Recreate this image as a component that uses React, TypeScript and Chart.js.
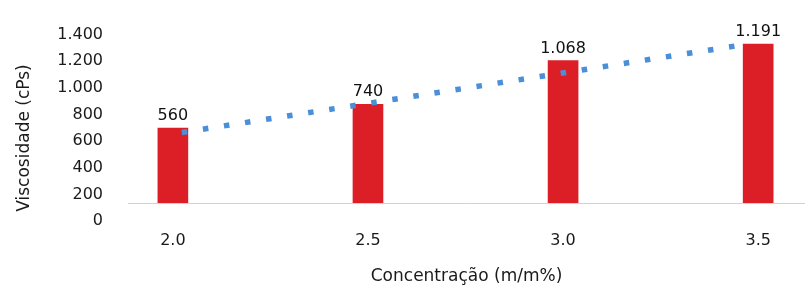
import React, { useEffect, useRef } from "react";
import { Chart, registerables } from "chart.js";

Chart.register(...registerables);

// ---- data ----
const categories = [2.0, 2.5, 3.0, 3.5];
const viscosity = [560, 740, 1068, 1191];
const valueLabels = ["560", "740", "1.068", "1.191"];
const yTicks = [0, 200, 400, 600, 800, 1000, 1200, 1400];
const yTickLabels = ["0", "200", "400", "600", "800", "1.000", "1.200", "1.400"];
const barBaseline = 137; // value-axis level on which the bars stand
const trendX = [2.023, 3.443];
const trendValues = [528, 1178];

const FONT = "DejaVu Sans";
const TEXT = "#1a1a1a";

export default function App() {
  const canvasRef = useRef<HTMLCanvasElement | null>(null);

  useEffect(() => {
    if (!canvasRef.current) return;

    const baselinePlugin = {
      id: "baselinePlugin",
      beforeDatasetsDraw(chart: any) {
        const { ctx, chartArea, scales } = chart;
        const y = Math.round(scales.y.getPixelForValue(barBaseline)) + 0.5;
        ctx.save();
        ctx.strokeStyle = "#d2d2d2";
        ctx.lineWidth = 1;
        ctx.beginPath();
        ctx.moveTo(chartArea.left, y);
        ctx.lineTo(chartArea.right, y);
        ctx.stroke();
        ctx.restore();
      },
    };

    const labelsPlugin = {
      id: "labelsPlugin",
      afterDatasetsDraw(chart: any) {
        const { ctx } = chart;
        const meta = chart.getDatasetMeta(1);
        ctx.save();
        ctx.font = `16px "${FONT}"`;
        ctx.fillStyle = "#111111";
        ctx.textAlign = "center";
        ctx.textBaseline = "alphabetic";
        meta.data.forEach((el: any, i: number) => {
          ctx.fillText(valueLabels[i], el.x, el.y - 8);
        });
        ctx.restore();
      },
    };

    const yTitlePlugin = {
      id: "yTitlePlugin",
      afterDraw(chart: any) {
        const { ctx } = chart;
        ctx.save();
        ctx.translate(25, 138);
        ctx.rotate(-Math.PI / 2);
        ctx.font = `17px "${FONT}"`;
        ctx.fillStyle = TEXT;
        ctx.textAlign = "center";
        ctx.textBaseline = "middle";
        ctx.fillText("Viscosidade (cPs)", 0, 0);
        ctx.restore();
      },
    };

    const chart = new Chart(canvasRef.current, {
      type: "bar",
      data: {
        datasets: [
          {
            type: "line",
            data: trendX.map((x, i) => ({ x, y: barBaseline + trendValues[i] })),
            borderColor: "#4A8FD8",
            borderWidth: 5.5,
            borderDash: [5.5, 15.8],
            borderCapStyle: "butt",
            pointRadius: 0,
            fill: false,
            tension: 0,
            order: 0,
          } as any,
          {
            type: "bar",
            data: categories.map((x, i) => ({ x, y: [barBaseline, barBaseline + viscosity[i]] })),
            backgroundColor: "#DC1F26",
            barThickness: 30,
            order: 1,
          } as any,
        ],
      },
      options: {
        animation: false,
        responsive: true,
        maintainAspectRatio: false,
        layout: { padding: { top: 27, right: 0, bottom: 0, left: 0 } },
        plugins: { legend: { display: false }, tooltip: { enabled: false } },
        scales: {
          x: {
            type: "linear",
            min: 1.885,
            max: 3.62,
            offset: false,
            grid: { display: false, drawTicks: false },
            border: { display: false },
            afterBuildTicks: (s: any) => {
              s.ticks = categories.map((v) => ({ value: v }));
            },
            afterFit: (s: any) => {
              s.height = 67;
            },
            ticks: {
              callback: (v: any) => Number(v).toFixed(1),
              font: { family: FONT, size: 16 },
              color: TEXT,
              padding: 10,
              autoSkip: false,
              maxRotation: 0,
            },
            title: {
              display: true,
              text: "Concentração (m/m%)",
              font: { family: FONT, size: 17 },
              color: TEXT,
              padding: { top: 0, bottom: 1 },
            },
          } as any,
          y: {
            type: "linear",
            min: 0,
            max: 1400,
            grid: { display: false, drawTicks: false },
            border: { display: false },
            afterBuildTicks: (s: any) => {
              s.ticks = yTicks.map((v) => ({ value: v }));
            },
            afterFit: (s: any) => {
              s.width = 128;
            },
            ticks: {
              callback: (_v: any, i: number) => yTickLabels[i],
              font: { family: FONT, size: 16 },
              color: TEXT,
              padding: 25,
              autoSkip: false,
            },
          } as any,
        },
      },
      plugins: [baselinePlugin, labelsPlugin, yTitlePlugin],
    });

    return () => chart.destroy();
  }, []);

  return (
    <div style={{ position: "absolute", left: 0, top: 0, width: 805, height: 288, background: "#ffffff" }}>
      <canvas ref={canvasRef} />
    </div>
  );
}
